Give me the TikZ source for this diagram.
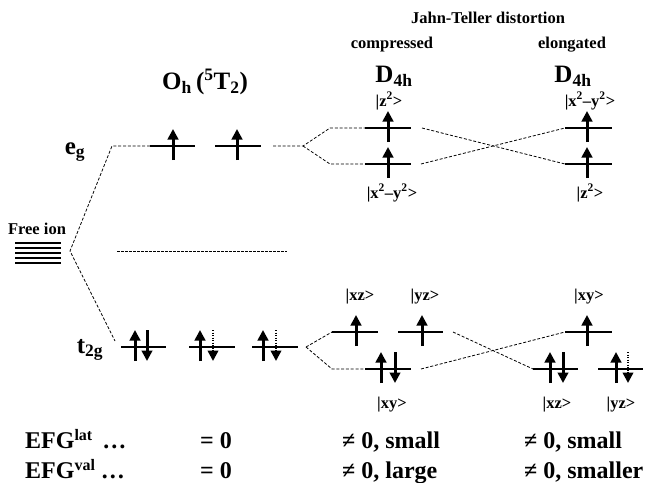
\documentclass[tikz,border=0pt]{standalone}
\usepackage{fontspec}
\setmainfont{Liberation Serif}
\usetikzlibrary{arrows.meta,calc}
\newcommand\lvl[4]{\draw[lvl] (#2,#4) coordinate (#1-l) -- (#3,#4) coordinate (#1-r);}
\newcommand\spu[2]{\draw[spin] (#1,#2+14) -- (#1,#2-17);}
\newcommand\spd[2]{\draw[spin] (#1,#2-17) -- (#1,#2+14);}
\newcommand\spdd[2]{\draw[dspin] (#1,#2-17) -- (#1,#2+14);}
\newcommand\efgsup[1]{\raisebox{0.33em}{\fontsize{16}{18}\selectfont #1}}
\begin{document}
\begin{tikzpicture}[x=1pt,y=-1pt,
  lvl/.style={line width=2.7pt},
  spin/.style={line width=3pt,-{Triangle[length=10.5pt,width=10.5pt]}},
  dspin/.style={line width=2.4pt,dash pattern=on 1.3pt off 1.2pt,-{Triangle[length=10.5pt,width=10.5pt]}},
  conn/.style={line width=0.8pt,dash pattern=on 3pt off 1.8pt},
  lab/.style={font=\fontsize{16.5}{18}\selectfont\bfseries,inner sep=0pt},
  big/.style={font=\fontsize{25}{28}\selectfont\bfseries,inner sep=0pt},
  efg/.style={font=\fontsize{24}{26}\selectfont\bfseries,inner sep=0pt}]
\useasboundingbox (0,0) rectangle (653,482);

% headings
\node[lab] (jt) at (488,18) {Jahn-Teller distortion};
\node[lab] (comp) at (392,45) {compressed};
\node[lab] (elon) at (572,45) {elongated};
\node[big] (dc) at (394,76) {D\textsubscript{4h}};
\node[big] (de) at (573,76) {D\textsubscript{4h}};
\node[big] (oh) at (205,82) {O\textsubscript{h}\,(\textsuperscript{5}T\textsubscript{2})};
\node[big] (eg) at (75,152) {e\textsubscript{g}};
\node[big] (tg) at (90,350) {t\textsubscript{2g}};
\node[lab] (fi) at (37,229) {Free ion};

% free ion levels
\foreach \yy in {243,248,253,258,263} \draw[line width=1.6pt] (15,\yy) -- (61,\yy);

% levels
\lvl{oe1}{150}{195}{146}
\lvl{oe2}{215}{261}{146}
\lvl{ot1}{121}{166}{347}
\lvl{ot2}{189}{235}{347}
\lvl{ot3}{252}{298}{347}
\lvl{ceu}{365}{411}{128}
\lvl{cel}{365}{411}{164}
\lvl{eeu}{565}{612}{128}
\lvl{eel}{565}{612}{164}
\lvl{cxz}{332}{378}{332}
\lvl{cyz}{398}{443}{332}
\lvl{cxy}{365}{411}{369}
\lvl{exy}{565}{612}{332}
\lvl{exz}{533}{578}{369}
\lvl{eyz}{598}{643}{369}

% spins
\spu{173}{146}
\spu{237}{146}
\spu{135}{347}\spd{147}{347}
\spu{200}{347}\spdd{213}{347}
\spu{263}{347}\spdd{276}{347}
\spu{388}{128}
\spu{388}{164}
\spu{587}{128}
\spu{587}{164}
\spu{356}{332}
\spu{422}{332}
\spu{381}{369}\spd{395}{369}
\spu{587}{332}
\spu{550}{369}\spd{563}{369}
\spu{616}{369}\spdd{628}{369}

% orbital labels
\node[lab] (z2c) at (389,101) {|z\textsuperscript{2}>};
\node[lab] (x2c) at (392,193) {|x\textsuperscript{2}–y\textsuperscript{2}>};
\node[lab] (x2e) at (590,101) {|x\textsuperscript{2}–y\textsuperscript{2}>};
\node[lab] (z2e) at (590,193) {|z\textsuperscript{2}>};
\node[lab] (xzc) at (360,297) {|xz>};
\node[lab] (yzc) at (425,297) {|yz>};
\node[lab] (xye) at (589,297) {|xy>};
\node[lab] (xyc) at (392,405) {|xy>};
\node[lab] (xze) at (557,405) {|xz>};
\node[lab] (yze) at (621,405) {|yz>};

% connectors
\coordinate (fa) at (70,251);
\coordinate (fb) at (112,146);
\coordinate (fc) at (115,341);
\draw[conn] (oe1-l) -- (fb) -- (fa) -- (fc);
\coordinate (m1) at (117,251);
\coordinate (m2) at (287,251);
\draw[line width=0.6pt,dash pattern=on 2.5pt off 1.5pt] (m1) -- (m2);

\coordinate (es0) at (273,146);
\coordinate (es) at (303,146);
\coordinate (esu) at (330,128);
\coordinate (esl) at (330,164);
\draw[conn] (es0) -- (es) -- (esu) -- (ceu-l);
\draw[conn] (es) -- (esl) -- (cel-l);

\coordinate (ts) at (306,347);
\coordinate (tsl) at (332,369);
\draw[conn] (ts) -- (cxz-l);
\draw[conn] (ts) -- (tsl) -- (cxy-l);

\coordinate (c1) at (422,128);
\coordinate (c2) at (421,164);
\coordinate (c3) at (453,332);
\coordinate (c4) at (421,369);
\draw[conn] (c1) -- (eel-l);
\draw[conn] (c2) -- (eeu-l);
\draw[conn] (c3) -- (exz-l);
\draw[conn] (c4) -- (exy-l);

% EFG rows
\node[efg,anchor=base west] (r1a) at (25,448) {EFG\efgsup{lat} \,…};
\node[efg,anchor=base west] (r2a) at (25,478) {EFG\efgsup{val} …};
\node[efg,anchor=base west] (r1b) at (200,448) {= 0};
\node[efg,anchor=base west] (r2b) at (200,478) {= 0};
\node[efg,anchor=base west] (r1c) at (342,448) {≠ 0, small};
\node[efg,anchor=base west] (r2c) at (342,478) {≠ 0, large};
\node[efg,anchor=base west] (r1d) at (524,448) {≠ 0, small};
\node[efg,anchor=base west] (r2d) at (524,478) {≠ 0, smaller};
\end{tikzpicture}
\end{document}
